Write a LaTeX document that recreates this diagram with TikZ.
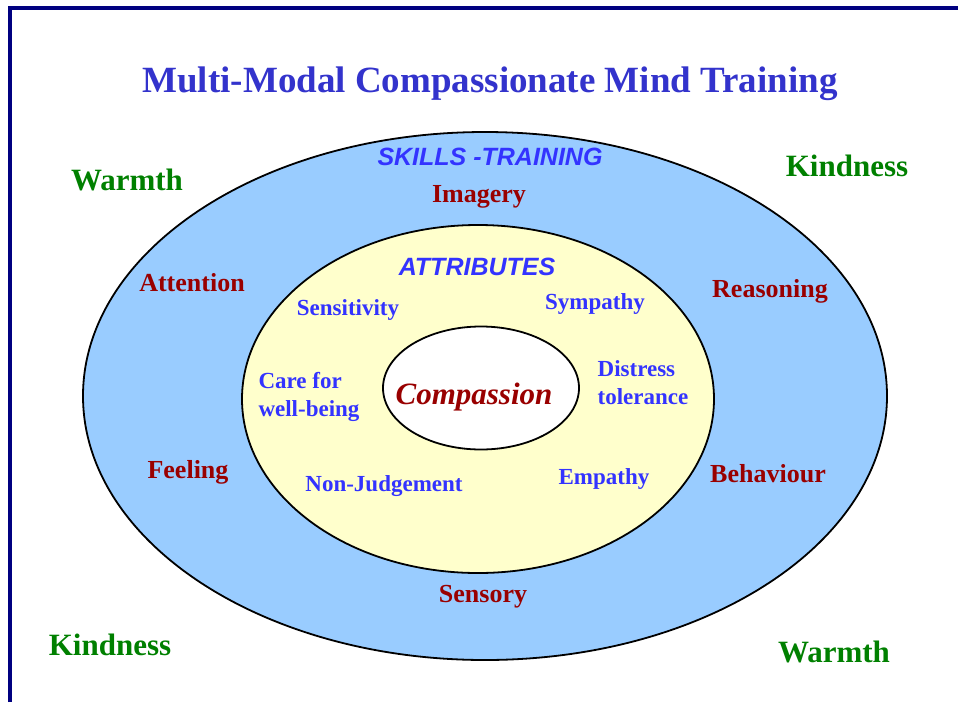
\documentclass[tikz,border=0pt]{standalone}
\usepackage{fontspec}
\setmainfont{Liberation Serif}
\newfontfamily\arialfont{Liberation Sans}
\usetikzlibrary{shapes.geometric}
\definecolor{framenavy}{RGB}{0,0,128}
\definecolor{titleblue}{RGB}{51,51,204}
\definecolor{lblue}{RGB}{51,51,255}
\definecolor{dred}{RGB}{153,0,0}
\definecolor{dgreen}{RGB}{0,128,0}
\definecolor{skyfill}{RGB}{153,204,255}
\definecolor{creamfill}{RGB}{255,255,204}
\tikzset{
  ring/.style={ellipse, draw=black, line width=1.8pt, inner sep=0pt},
  greenlbl/.style={text=dgreen, font=\fontsize{31}{34}\selectfont\bfseries},
  redlbl/.style={text=dred, font=\fontsize{26}{28}\selectfont\bfseries},
  bluelbl/.style={text=lblue, font=\fontsize{23}{28}\selectfont\bfseries, align=left},
  headlbl/.style={text=lblue, font=\fontsize{25}{28}\selectfont\arialfont\bfseries\itshape},
}
\begin{document}
\begin{tikzpicture}[x=1pt,y=-1pt]
\useasboundingbox (0,0) rectangle (958,702);
\draw[framenavy, line width=4pt] (10,702) -- (10,8) -- (958,8);
\node[text=titleblue, font=\fontsize{37}{40}\selectfont\bfseries] (title) at (490,84) {Multi-Modal Compassionate Mind Training};
\node[ring, fill=skyfill, minimum width=804pt, minimum height=528pt] (outer) at (485,396) {};
\node[ring, fill=creamfill, minimum width=472pt, minimum height=348pt] (middle) at (478,399) {};
\node[ring, fill=white, minimum width=196pt, minimum height=123pt] (inner) at (481,388) {};
\node[text=dred, font=\fontsize{31}{34}\selectfont\bfseries\itshape] (comp) at (474,397) {Compassion};
\node[headlbl] (skills) at (490,157) {SKILLS -TRAINING};
\node[headlbl] (attr) at (477,267) {ATTRIBUTES};
\node[greenlbl] (warm1) at (127,180) {Warmth};
\node[greenlbl] (kind1) at (847,166) {Kindness};
\node[greenlbl] (kind2) at (110,645) {Kindness};
\node[greenlbl] (warm2) at (834,652) {Warmth};
\node[redlbl] (imagery) at (479,197) {Imagery};
\node[redlbl] (attention) at (192,283) {Attention};
\node[redlbl] (reasoning) at (770,291) {Reasoning};
\node[redlbl] (feeling) at (188,472) {Feeling};
\node[redlbl] (behaviour) at (768,474) {Behaviour};
\node[redlbl] (sensory) at (483,597) {Sensory};
\node[bluelbl] (sensitivity) at (348,310) {Sensitivity};
\node[bluelbl] (sympathy) at (595,304) {Sympathy};
\node[bluelbl] (care) at (309,397) {Care for\\well-being};
\node[bluelbl] (distress) at (643,383) {Distress\\tolerance};
\node[bluelbl] (nonj) at (384,486) {Non-Judgement};
\node[bluelbl] (empathy) at (604,479) {Empathy};
\end{tikzpicture}
\end{document}
